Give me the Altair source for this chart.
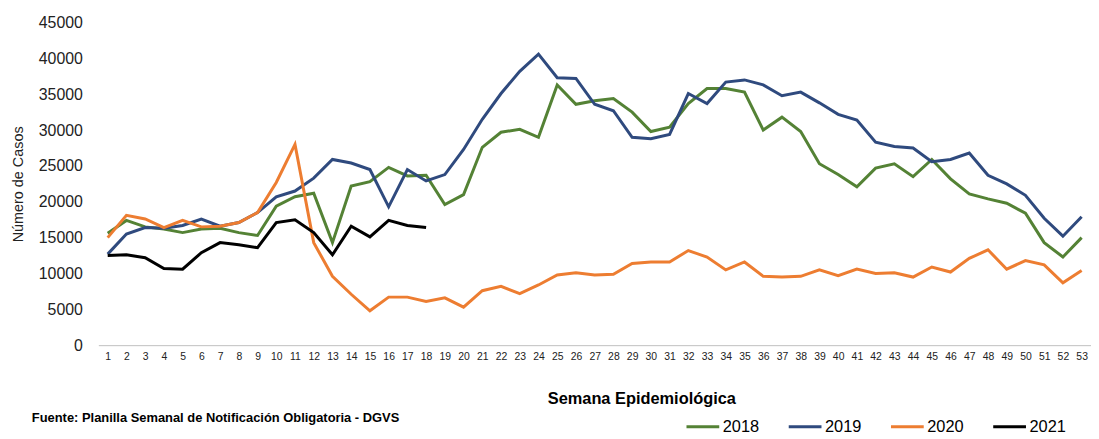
import altair as alt
import pandas as pd

weeks = list(range(1, 54))
years = ["2018", "2019", "2020", "2021"]
colors = ["#548235", "#2f4a7e", "#ed7d31", "#000000"]

y2018 = [15600, 17400, 16500, 16200, 15700, 16200, 16300, 15700, 15300, 19400,
         20700, 21200, 14300, 22200, 22800, 24800, 23600, 23700, 19600, 21000,
         27600, 29700, 30100, 29000, 36300, 33600, 34100, 34400, 32500, 29800,
         30400, 33700, 35800, 35800, 35300, 30000, 31800, 29800, 25300, 23800,
         22100, 24700, 25300, 23500, 25900, 23200, 21100, 20400, 19800, 18400,
         14300, 12300, 15000]
y2019 = [12700, 15500, 16400, 16300, 16700, 17600, 16600, 17100, 18500, 20700,
         21500, 23300, 25900, 25400, 24500, 19300, 24500, 22900, 23800, 27300,
         31500, 35100, 38200, 40600, 37300, 37200, 33600, 32700, 29000, 28800,
         29400, 35100, 33700, 36700, 37000, 36300, 34800, 35300, 33800, 32200,
         31400, 28300, 27700, 27500, 25600, 25900, 26800, 23700, 22500, 20900,
         17700, 15200, 17900]
y2020 = [15000, 18100, 17600, 16400, 17400, 16500, 16600, 17100, 18500, 22700,
         28000, 14300, 9600, 7100, 4800, 6700, 6700, 6100, 6600, 5300,
         7600, 8200, 7200, 8400, 9800, 10100, 9800, 9900, 11400, 11600,
         11600, 13200, 12300, 10500, 11600, 9600, 9500, 9600, 10500, 9700,
         10600, 10000, 10100, 9500, 10900, 10200, 12100, 13300, 10600, 11800,
         11200, 8700, 10400]
y2021 = [12500, 12600, 12200, 10700, 10600, 12900, 14300, 14000, 13600, 17100,
         17500, 15700, 12600, 16600, 15100, 17400, 16700, 16400]

y_ticks = list(range(0, 45001, 5000))
x_title = "Semana Epidemiológica"
y_title = "Número de Casos"
source = "Fuente: Planilla  Semanal de Notificación   Obligatoria - DGVS"

rows = []
for yr, vals in zip(years, [y2018, y2019, y2020, y2021]):
    for w, v in zip(weeks, vals):
        rows.append({"semana": w, "casos": v, "anio": yr})
df = pd.DataFrame(rows)

W, H = 1000, 325
FONT = "Liberation Sans"

lines = alt.Chart(df).mark_line(strokeWidth=3, strokeJoin="miter").encode(
    x=alt.X("semana:Q",
            scale=alt.Scale(domain=[0.5, 53.5], nice=False, zero=False),
            axis=alt.Axis(values=weeks, title=x_title, grid=False, ticks=False,
                          domain=True, domainColor="#bfbfbf", domainWidth=1,
                          labelFont=FONT, labelFontSize=10.5,
                          labelColor="#222222", labelPadding=6, labelFlush=False,
                          labelOverlap=False,
                          titleFont=FONT, titleFontSize=16.5,
                          titleFontWeight="bold", titleColor="#000000",
                          titleX=547, titleY=54, titleAlign="center",
                          titleBaseline="middle")),
    y=alt.Y("casos:Q",
            scale=alt.Scale(domain=[0, 45000], nice=False),
            axis=alt.Axis(values=y_ticks, format="d", title=y_title, grid=False,
                          ticks=False, domain=False, labelFont=FONT,
                          labelFontSize=16, labelColor="#222222", labelPadding=16,
                          titleFont=FONT, titleFontSize=14.5,
                          titleFontWeight="normal", titleColor="#222222",
                          titlePadding=13)),
    color=alt.Color("anio:N",
                    scale=alt.Scale(domain=years, range=colors),
                    legend=alt.Legend(title=None, orient="none", direction="horizontal",
                                      legendX=591, legendY=389,
                                      symbolType="stroke", symbolSize=1089,
                                      symbolStrokeWidth=3, labelFontSize=16.5,
                                      labelFont=FONT,
                                      labelColor="#000000", labelOffset=2,
                                      columnPadding=23)),
    order=alt.Order("anio:N"),
)

foot_df = pd.DataFrame({"t": [source]})
footer = alt.Chart(foot_df).mark_text(
    align="left", baseline="middle", font=FONT,
    fontSize=13, fontWeight="bold", color="#000000"
).encode(x=alt.value(-67), y=alt.value(398), text="t:N")

chart = alt.layer(lines, footer).properties(
    width=W, height=H,
    autosize=alt.AutoSizeParams(type="none"),
    padding={"left": 91, "top": 13, "right": 0, "bottom": 110},
).configure_view(stroke=None)

chart.save("out.html", embed_options={"renderer": "svg", "actions": False})
